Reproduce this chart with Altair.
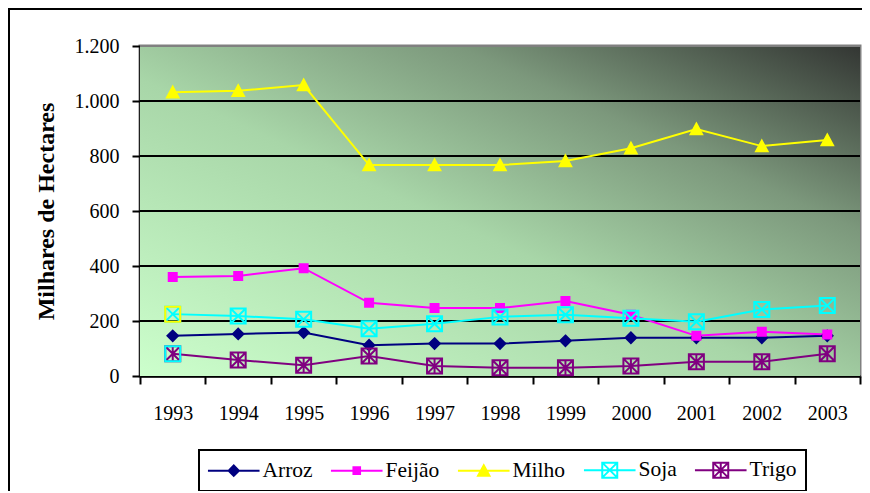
import altair as alt
import pandas as pd

years = ["1993", "1994", "1995", "1996", "1997", "1998", "1999", "2000", "2001", "2002", "2003"]
series = ["Arroz", "Feijão", "Milho", "Soja", "Trigo"]
arroz = [146, 153, 158, 112, 118, 118, 128, 139, 139, 139, 146]
feijao = [360, 364, 392, 266, 247, 247, 273, 223, 146, 161, 151]
milho = [1032, 1037, 1058, 767, 767, 767, 782, 828, 898, 836, 858]
soja = [225, 218, 206, 172, 190, 215, 223, 210, 197, 242, 256]
trigo = [81, 58, 39, 73, 36, 30, 30, 36, 52, 52, 81]
y_ticks = [0, 200, 400, 600, 800, 1000, 1200]
grid_values = [200, 400, 600, 800, 1000, 1200]

line_colors = ["#000080", "#FF00FF", "#FFFF00", "#00FFFF", "#800080"]
marker_fills = ["#000080", "#FF00FF", "#FFFF00", "transparent", "transparent"]
# first-year box outlines of Soja and Trigo are drawn in another colour in the original
odd_box_series = ["Soja", "Trigo"]
odd_box_colors = ["#FFFF00", "#00FFFF"]

plot_shapes = [
    "M0,-1.05L1.05,0L0,1.05L-1.05,0Z",
    "M-0.8,-0.8L0.8,-0.8L0.8,0.8L-0.8,0.8Z",
    "M0,-1.1L1.15,1.05L-1.15,1.05Z",
    "M-1.5,-1.5L1.5,-1.5L1.5,1.5L-1.5,1.5Z M-1.5,-1.5L1.5,1.5 M1.5,-1.5L-1.5,1.5",
    "M-1.5,-1.5L1.5,-1.5L1.5,1.5L-1.5,1.5Z M-1.5,-1.5L1.5,1.5 M1.5,-1.5L-1.5,1.5 M0,-1.5L0,1.5",
]
box_path = "M-1.5,-1.5L1.5,-1.5L1.5,1.5L-1.5,1.5Z"
seg = "M-4.3,0L4.3,0 "
legend_shapes = [
    seg + "M0,-0.85L0.85,0L0,0.85L-0.85,0Z",
    seg + "M-0.55,-0.55L0.55,-0.55L0.55,0.55L-0.55,0.55Z",
    seg + "M0,-0.9L0.95,0.85L-0.95,0.85Z",
    seg + "M-1.25,-1.25L1.25,-1.25L1.25,1.25L-1.25,1.25Z M-1.25,-1.25L1.25,1.25 M1.25,-1.25L-1.25,1.25",
    seg + "M-1.25,-1.25L1.25,-1.25L1.25,1.25L-1.25,1.25Z M-1.25,-1.25L1.25,1.25 M1.25,-1.25L-1.25,1.25 M0,-1.25L0,1.25",
]

rows = []
for name, vals in zip(series, [arroz, feijao, milho, soja, trigo]):
    for yr, v in zip(years, vals):
        rows.append({"Ano": yr, "Cultura": name, "Valor": v})
df = pd.DataFrame(rows)

FONT = "Liberation Serif"
W, H = 720, 330

x_enc = alt.X(
    "Ano:O",
    sort=years,
    scale=alt.Scale(type="band", paddingInner=0, paddingOuter=0),
    axis=alt.Axis(
        title=None, labelAngle=0, tickBand="extent", tickSize=8, tickWidth=2,
        tickColor="black", domainColor="black", domainWidth=2.5, labelPadding=19,
        labelFont=FONT, labelFontSize=20, labelColor="black", grid=False,
    ),
)
y_enc = alt.Y(
    "Valor:Q",
    scale=alt.Scale(domain=[0, 1200], nice=False),
    axis=alt.Axis(
        values=y_ticks,
        labelExpr="replace(format(datum.value, ','), ',', '.')",
        title="Milhares de Hectares", titleFont=FONT, titleFontSize=24,
        titleFontWeight="bold", titleColor="black", titlePadding=16,
        labelFont=FONT, labelFontSize=20, labelColor="black", labelPadding=13,
        tickSize=8, tickWidth=2, tickColor="black", domainColor="black", domainWidth=2.5,
        grid=False,
    ),
)

# outer chart frame: only its top and left sides fall inside the window
frame_top = alt.Chart(pd.DataFrame({"k": [0]})).mark_rule(
    color="black", strokeWidth=2, clip=False
).encode(x=alt.value(-132), x2=alt.value(W + 40), y=alt.value(-37))
frame_left = alt.Chart(pd.DataFrame({"k": [0]})).mark_rule(
    color="black", strokeWidth=2, clip=False
).encode(x=alt.value(-131), y=alt.value(-38), y2=alt.value(H + 200))

gradient = alt.Gradient(
    gradient="linear", x1=0, y1=1, x2=1, y2=0,
    stops=[
        alt.GradientStop(offset=0, color="#ccffcc"),
        alt.GradientStop(offset=0.45, color="#a8d6a8"),
        alt.GradientStop(offset=0.72, color="#7c987c"),
        alt.GradientStop(offset=1, color="#333633"),
    ],
)
background = alt.Chart(pd.DataFrame({"k": [0]})).mark_rect(fill=gradient).encode(
    x=alt.value(0), x2=alt.value(W), y=alt.value(0), y2=alt.value(H)
)

grid = alt.Chart(pd.DataFrame({"Valor": grid_values})).mark_rule(strokeWidth=2).encode(
    y=y_enc,
    stroke=alt.condition("datum.Valor >= 1200", alt.value("#808080"), alt.value("black")),
)

lines = alt.Chart(df).mark_line(strokeWidth=2).encode(
    x=x_enc, y=y_enc,
    stroke=alt.Stroke("Cultura:N", scale=alt.Scale(domain=series, range=line_colors), legend=None),
)

points = alt.Chart(df).mark_point(filled=True, size=100, strokeWidth=2, opacity=1).encode(
    x=x_enc, y=y_enc,
    stroke=alt.Stroke("Cultura:N", scale=alt.Scale(domain=series, range=line_colors), legend=None),
    fill=alt.Fill("Cultura:N", scale=alt.Scale(domain=series, range=marker_fills), legend=None),
    shape=alt.Shape("Cultura:N", scale=alt.Scale(domain=series, range=plot_shapes), legend=None),
)

odd_boxes = alt.Chart(df).transform_filter(
    "datum.Ano == '1993' && (datum.Cultura == 'Soja' || datum.Cultura == 'Trigo')"
).mark_point(shape=box_path, filled=False, size=100, strokeWidth=2, opacity=1).encode(
    x=x_enc, y=y_enc,
    stroke=alt.Stroke("Cultura:N", scale=alt.Scale(domain=odd_box_series, range=odd_box_colors), legend=None),
)

leg = alt.Legend(
    title=None, orient="none", legendX=59, legendY=404, direction="horizontal", columns=5,
    gridAlign="each",
    symbolSize=144, symbolStrokeWidth=2, symbolOffset=15, labelOffset=18, columnPadding=13,
    labelFont=FONT, labelFontSize=21.5, labelColor="black", strokeColor="black",
    fillColor="white", padding=9,
)
legend_layer = alt.Chart(df).transform_filter("false").mark_point(
    filled=True, strokeWidth=2, opacity=1
).encode(
    stroke=alt.Stroke("Cultura:N", scale=alt.Scale(domain=series, range=line_colors), legend=leg),
    fill=alt.Fill("Cultura:N", scale=alt.Scale(domain=series, range=marker_fills), legend=leg),
    shape=alt.Shape("Cultura:N", scale=alt.Scale(domain=series, range=legend_shapes), legend=leg),
)

chart = alt.layer(
    frame_top, frame_left, background, grid, lines, points, odd_boxes, legend_layer
).resolve_scale(
    stroke="independent", fill="independent", shape="independent"
).properties(
    width=W, height=H,
    padding={"left": 132, "top": 38, "right": 2, "bottom": 115},
    autosize=alt.AutoSizeParams(type="none"),
).configure_view(
    stroke="#808080", strokeWidth=3
).configure_legend(strokeWidth=2)

chart.save("out.html", embed_options={"renderer": "svg", "actions": False})
